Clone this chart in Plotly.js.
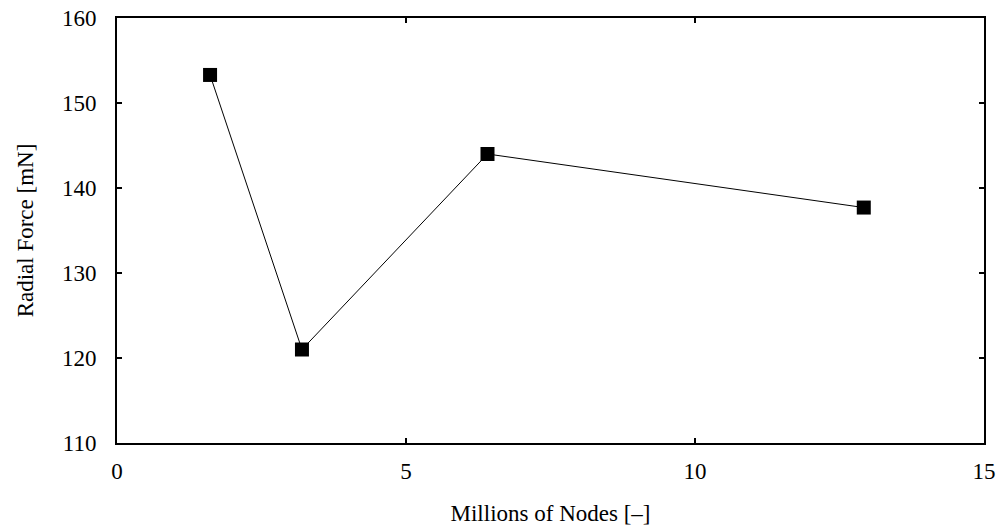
<!DOCTYPE html>
<html><head><meta charset="utf-8">
<script src="https://cdn.plot.ly/plotly-3.0.1.min.js"></script>
<style>html,body{margin:0;padding:0;background:#fff}</style>
</head><body>
<div id="chart" style="width:1003px;height:531px"></div>
<script>
const nodes = [1.61, 3.2, 6.41, 12.92];
const force = [153.3, 121.0, 144.0, 137.7];
const xTicks = [0, 5, 10, 15];
const yTicks = [110, 120, 130, 140, 150, 160];
const fontFam = '"Liberation Serif", "DejaVu Serif", serif';
const trace = {
  x: nodes, y: force, type: 'scatter', mode: 'lines+markers',
  line: {color: '#000', width: 1},
  marker: {symbol: 'square', size: 14, color: '#000'}
};
const axisBase = {
  showgrid: false, zeroline: false, showline: true, linecolor: '#000', linewidth: 2,
  mirror: 'ticks', ticks: 'inside', ticklen: 5, tickwidth: 1.5, tickcolor: '#000',
  tickfont: {family: fontFam, size: 23, color: '#000'}
};
const layout = {
  width: 1003, height: 531,
  margin: {l: 117, r: 19, t: 18, b: 88},
  paper_bgcolor: '#fff', plot_bgcolor: '#fff',
  showlegend: false,
  xaxis: Object.assign({}, axisBase, {
    range: [0, 15], tickvals: xTicks, ticktext: xTicks.map(String),
    ticklabelstandoff: 6,
    title: {text: 'Millions of Nodes [–]', font: {family: fontFam, size: 23, color: '#000'}, standoff: 22}
  }),
  yaxis: Object.assign({}, axisBase, {
    range: [110, 160], tickvals: yTicks, ticktext: yTicks.map(String),
    ticklabelstandoff: 14,
    title: {text: 'Radial Force [mN]', font: {family: fontFam, size: 23, color: '#000'}, standoff: 22}
  })
};
Plotly.newPlot('chart', [trace], layout, {displayModeBar: false, staticPlot: true});
</script>
</body></html>
